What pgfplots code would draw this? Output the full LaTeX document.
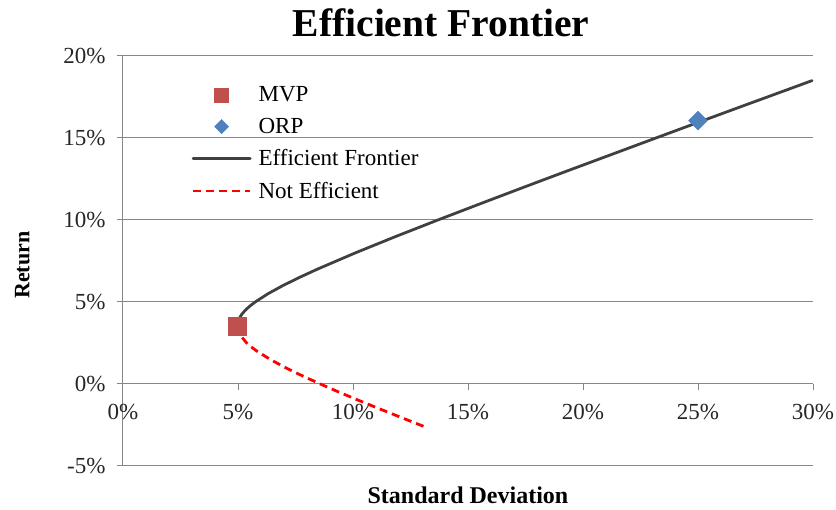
\documentclass[border=0pt]{standalone}
\usepackage{fontspec}
\setmainfont{Liberation Serif}
\usepackage{pgfplots}
\pgfplotsset{compat=1.18}
\definecolor{mvpred}{HTML}{C0504D}
\definecolor{orpblue}{HTML}{4F81BD}
\definecolor{frontgray}{HTML}{404040}
\definecolor{gridgray}{HTML}{868686}
\begin{document}
\begin{tikzpicture}
\begin{axis}[
  name=ax,
  scale only axis,
  width=690pt, height=410pt,
  xmin=0, xmax=30, ymin=-5, ymax=20,
  enlargelimits=false,
  clip=false,
  axis x line=middle,
  axis y line=left,
  axis line style={-, draw=gridgray, line width=1pt},
  hide obscured x ticks=false,
  hide obscured y ticks=false,
  tick align=outside,
  major tick length=6pt,
  tick style={draw=gridgray, line width=1pt},
  xtick={0,5,10,15,20,25,30},
  xticklabels={0\%,5\%,10\%,15\%,20\%,25\%,30\%},
  ytick={-5,0,5,10,15,20},
  yticklabels={-5\%,0\%,5\%,10\%,15\%,20\%},
  ymajorgrids,
  grid style={draw=gridgray, line width=1pt},
  tick label style={font=\fontsize{23}{27}\selectfont, text=black!85},
  xticklabel style={yshift=-11pt},
  yticklabel style={xshift=-8pt},
  xlabel={Standard Deviation},
  ylabel={Return},
  x label style={at={(axis description cs:0.5,0)}, anchor=north, yshift=-17pt, font=\bfseries\fontsize{24}{28}\selectfont},
  y label style={at={(axis description cs:-0.146,0.49)}, anchor=center, rotate=0, font=\bfseries\fontsize{22}{26}\selectfont},
  title={Efficient Frontier},
  title style={at={(axis description cs:0.461,1)}, anchor=base, yshift=13pt, font=\bfseries\fontsize{39.5}{45}\selectfont},
  legend style={draw=none, fill=none, at={(axis description cs:0.095,0.935)}, anchor=north west, font=\fontsize{23}{27}\selectfont, row sep=10.8pt,
    /tikz/every odd column/.append style={column sep=5pt}},
  legend cell align=left,
  legend image code/.code={\draw[mark repeat=2,mark phase=2,#1] plot coordinates {(0pt,0pt) (28.5pt,0pt) (57pt,0pt)};},
]
\addplot[only marks, mark=square*, mark size=9pt, mark options={fill=mvpred, draw=mvpred}, legend image post style={mark size=7pt}]
  coordinates {(4.97,3.54)};
\addlegendentry{MVP}
\addplot[only marks, mark=square*, mark size=6.7pt, mark options={rotate=45, fill=orpblue, draw=orpblue}, legend image post style={mark size=5pt}]
  coordinates {(25.0,16.06)};
\addlegendentry{ORP}
\addplot[frontgray, line width=2.8pt, line join=round, line cap=round]
  coordinates {
  (4.97,3.54) (4.996,3.8) (5.053,4.0) (5.164,4.25) (5.319,4.5) (5.515,4.75)
  (5.746,5.0) (6.30,5.5) (6.95,6.0) (7.673,6.5) (8.449,7) (10.11,8)
  (11.87,9) (13.69,10) (15.55,11) (17.43,12) (19.33,13) (21.25,14)
  (23.17,15) (25.10,16) (27.04,17) (28.99,18) (29.96,18.5)
  };
\addlegendentry{Efficient Frontier}
\addplot[red, line width=2.8pt, dash pattern=on 8pt off 5pt, line join=round]
  coordinates {
  (4.97,3.54) (4.993,3.3) (5.083,3.0) (5.378,2.5) (5.585,2.25) (5.827,2.0)
  (6.398,1.5) (7.061,1.0) (7.794,0.5) (8.577,0) (9.40,-0.5) (10.25,-1)
  (11.125,-1.5) (12.02,-2) (13.23,-2.67)
  };
\addlegendentry{Not Efficient}
\end{axis}
\pgfresetboundingbox
\path[use as bounding box] ([xshift=-123pt,yshift=-44pt]ax.south west) rectangle ([xshift=23pt,yshift=56pt]ax.north east);
\end{tikzpicture}
\end{document}
